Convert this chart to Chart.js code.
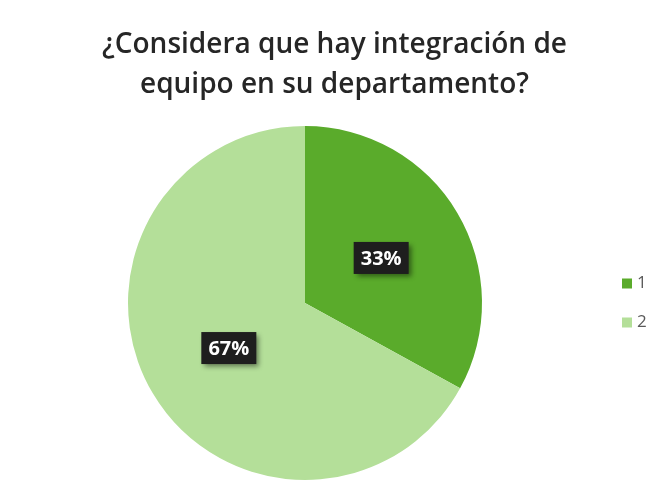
<!DOCTYPE html>
<html>
<head>
<meta charset="utf-8">
<script src="https://cdn.jsdelivr.net/npm/chart.js@4/dist/chart.umd.min.js"></script>
<style>
  html, body { margin: 0; padding: 0; background: #ffffff; }
  #wrap { width: 649px; height: 491px; position: relative; }
</style>
</head>
<body>
<div id="wrap"><canvas id="c" width="649" height="491"></canvas></div>
<script>
const categories = ['1', '2'];
const percentages = [33, 67];
const sliceColors = ['#5aab2b', '#b4df99'];
const titleLines = ['¿Considera que hay integración de', 'equipo en su departamento?'];

// Dark value badges drawn at half radius on each slice
const badgePlugin = {
  id: 'badges',
  afterDatasetsDraw(chart) {
    const ctx = chart.ctx;
    const meta = chart.getDatasetMeta(0);
    meta.data.forEach((arc, i) => {
      const mid = (arc.startAngle + arc.endAngle) / 2;
      const r = arc.outerRadius * 0.5;
      const x = arc.x + Math.cos(mid) * r;
      const y = arc.y + Math.sin(mid) * r;
      const text = percentages[i] + '%';
      ctx.save();
      ctx.font = 'bold 20px "Open Sans", sans-serif';
      const w = 55, h = 32;
      ctx.shadowColor = 'rgba(0,0,0,0.45)';
      ctx.shadowBlur = 5;
      ctx.shadowOffsetX = 3;
      ctx.shadowOffsetY = 3;
      ctx.fillStyle = '#1e1e1e';
      ctx.fillRect(x - w / 2, y - h / 2, w, h);
      ctx.shadowColor = 'transparent';
      ctx.fillStyle = '#ffffff';
      ctx.textAlign = 'center';
      ctx.textBaseline = 'middle';
      ctx.fillText(text, x, y + 1);
      ctx.restore();
    });
  }
};

// Side legend, vertically centred on the pie
const sideLegend = {
  id: 'sideLegend',
  afterDraw(chart) {
    const ctx = chart.ctx;
    const area = chart.chartArea;
    const cy = (area.top + area.bottom) / 2;
    const gap = 39;
    const x = area.right + 12;
    ctx.save();
    ctx.font = '17px "Open Sans", sans-serif';
    ctx.textBaseline = 'middle';
    categories.forEach((label, i) => {
      const y = cy - gap / 2 + i * gap;
      ctx.fillStyle = sliceColors[i];
      ctx.fillRect(x, y - 5, 10, 10);
      ctx.fillStyle = '#595959';
      ctx.fillText(label, x + 15, y);
    });
    ctx.restore();
  }
};

// Two-line heading, centred over the whole figure including the legend
const heading = {
  id: 'heading',
  afterDraw(chart) {
    const ctx = chart.ctx;
    const cx = chart.width / 2 + 10;
    ctx.save();
    ctx.font = '600 28px "Open Sans", sans-serif';
    ctx.fillStyle = '#262626';
    ctx.textAlign = 'center';
    ctx.textBaseline = 'middle';
    titleLines.forEach((line, i) => ctx.fillText(line, cx, 45 + i * 40));
    ctx.restore();
  }
};

new Chart(document.getElementById('c'), {
  type: 'pie',
  data: {
    labels: categories,
    datasets: [{
      data: percentages,
      backgroundColor: sliceColors,
      borderColor: '#ffffff',
      borderWidth: 0
    }]
  },
  options: {
    responsive: false,
    animation: false,
    layout: { padding: { top: 126, bottom: 11, left: 0, right: 39 } },
    plugins: {
      tooltip: { enabled: false },
      legend: { display: false },
      title: { display: false }
    }
  },
  plugins: [badgePlugin, sideLegend, heading]
});
</script>
</body>
</html>
